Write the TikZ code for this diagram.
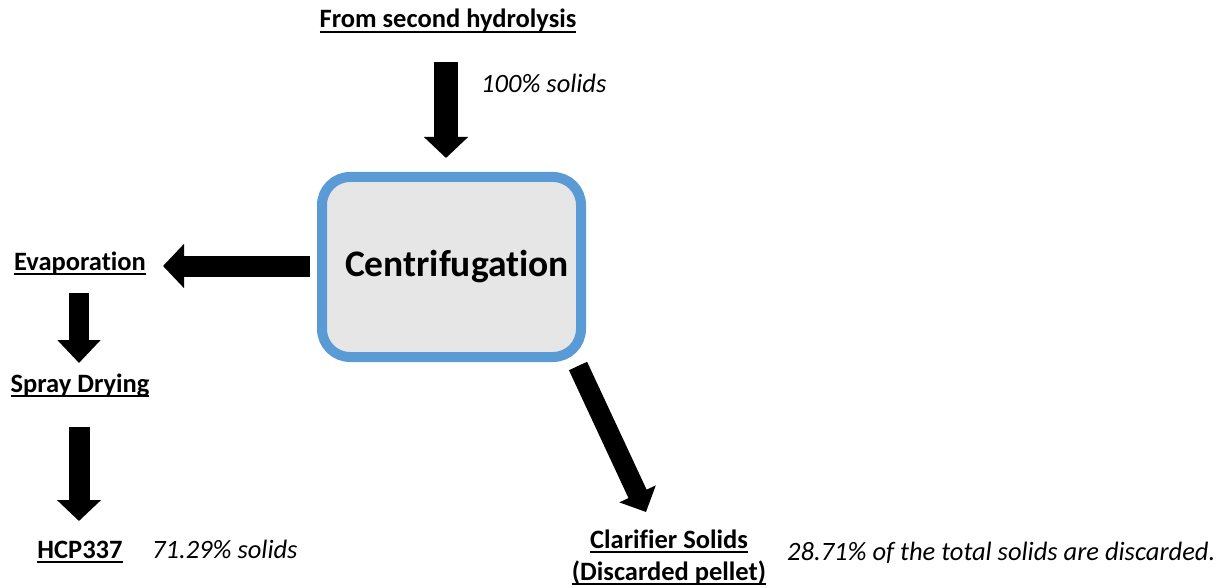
\documentclass[tikz,border=0pt]{standalone}
\usepackage{fontspec}
\setmainfont{Carlito}[Ligatures={NoCommon,NoRare,NoContextual}]
\usetikzlibrary{arrows.meta,calc}
\definecolor{boxblue}{HTML}{5B9BD5}
\definecolor{boxfill}{HTML}{E7E6E6}
\newsavebox{\myulbox}
\newcommand\ulx[1]{\sbox{\myulbox}{#1}\rlap{\rule[-5pt]{\wd\myulbox}{1.7pt}}\usebox{\myulbox}}
\tikzset{
  lbl/.style={font=\fontsize{26.5}{30}\selectfont\bfseries, inner sep=0pt, anchor=base},
  note/.style={font=\fontsize{26.5}{30}\selectfont\itshape, inner sep=0pt, anchor=base west},
  blk/.style={line width=21pt, black, -{Triangle[width=43pt,length=21pt]}},
  procbox/.style={draw=boxblue, fill=boxfill, line width=10pt, rounded corners=28pt,
    minimum width=259pt, minimum height=180pt, inner sep=0pt},
}
\begin{document}
\begin{tikzpicture}[x=1pt,y=-1pt]
\useasboundingbox (0,0) rectangle (1225,588);
\node[procbox] (box) at (451.5,267) {};
\node[font=\fontsize{37.5}{42}\selectfont\bfseries, anchor=base, inner sep=0pt] (centri) at (457,276) {Centrifugation};

\node[lbl] (src) at (448,28) {\ulx{From second hydrolysis}};
\node[note] (n1) at (481,93) {100\% solids};
\node[lbl] (evap) at (80,270) {\ulx{Evaporation}};
\node[lbl] (spray) at (80,392) {\ulx{Spray Drying}};
\node[lbl] (hcp) at (80,558) {\ulx{HCP337}};
\node[note] (n2) at (152,558) {71.29\% solids};
\node[lbl] (clar1) at (669,548) {\ulx{Clarifier Solids}};
\node[lbl] (clar2) at (669,580) {\ulx{(Discarded pellet)}};
\node[note] (n3) at (787,560) {28.71\% of the total solids are discarded.};

\coordinate (a0) at (446,62);
\coordinate (b1) at (163,266);
\coordinate (c0) at (79,293);
\coordinate (c1) at (79,363);
\coordinate (e0) at (79,427);
\coordinate (e1) at (79,521);
\coordinate (d0) at (578,366);
\coordinate (d1) at (646,512);

\draw[blk, line width=24pt, shorten >=14pt] (a0) -- (a0 |- box.north);
\draw[blk, shorten <=7pt] (box.west |- b1) -- (b1);
\draw[blk, line width=20pt, -{Triangle[width=42pt,length=23pt]}] (c0) -- (c1);
\draw[blk] (e0) -- (e1);
\draw[blk, line width=20pt, -{Triangle[width=39pt,length=20pt]}] (d0) -- (d1);
\end{tikzpicture}
\end{document}
